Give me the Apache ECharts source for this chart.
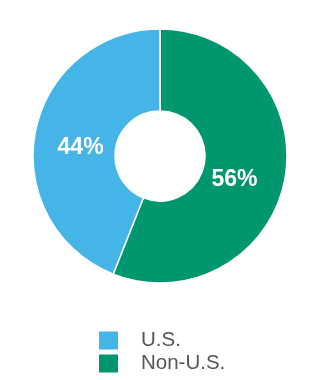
<!DOCTYPE html>
<html><head><meta charset="utf-8">
<script src="https://cdn.jsdelivr.net/npm/echarts@6/dist/echarts.min.js"></script>
<style>html,body{margin:0;padding:0;background:#fff}#c{width:320px;height:380px}</style>
</head><body><div id="c"></div>
<script>
const categories = ['Non-U.S.', 'U.S.'];
const values = [56, 44];
const colors = ['#00976f', '#45b4e6'];
const legendOrder = ['U.S.', 'Non-U.S.'];
const labelOffsets = [[-13, 7], [8, 8]];

const FONT = "'Liberation Sans', Arial, sans-serif";
const chart = echarts.init(document.getElementById('c'));
const legendBase = {
  orient: 'vertical', left: 99, padding: 0,
  itemWidth: 19, itemHeight: 18, itemGap: 5,
  icon: 'rect',
  selectedMode: false,
  itemStyle: { borderWidth: 0 },
  textStyle: { fontFamily: FONT, fontSize: 20.5, color: '#555', padding: [0,0,0,18] }
};
chart.setOption({
  animation: false,
  legend: legendOrder.map((n, i) => Object.assign({}, legendBase, { top: 330 + i * 23, data: [n] })),
  series: [{
    type: 'pie',
    center: [160, 156],
    radius: [45, 127],
    startAngle: 90,
    clockwise: true,
    itemStyle: { borderColor: '#fff', borderWidth: 1.5 },
    label: {
      position: 'inside',
      formatter: '{c}%',
      color: '#fff',
      fontWeight: 'bold',
      fontSize: 23,
      fontFamily: FONT
    },
    labelLine: { show: false },
    emphasis: { disabled: true },
    data: categories.map((n, i) => ({
      name: n, value: values[i],
      itemStyle: { color: colors[i] },
      label: { offset: labelOffsets[i] }
    }))
  }]
});
</script></body></html>
